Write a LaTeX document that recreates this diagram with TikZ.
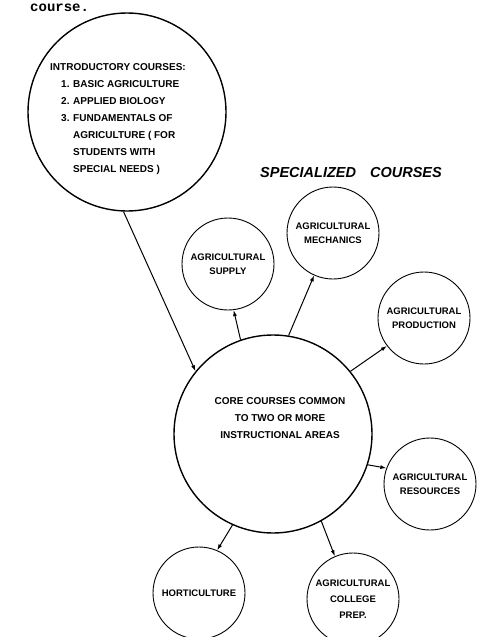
\documentclass[tikz,border=0pt]{standalone}
\usepackage{fontspec}
\setsansfont{Liberation Sans}
\setmonofont{Liberation Mono}
\usetikzlibrary{arrows.meta}

\begin{document}
\begin{tikzpicture}[x=1pt, y=-1pt]
\useasboundingbox (0,0) rectangle (477,637);

\coordinate (P_intro) at (127, 112);
\coordinate (P_core) at (273, 434);
\coordinate (P_supply) at (228, 264);
\coordinate (P_mech) at (333, 233);
\coordinate (P_prod) at (424, 318);
\coordinate (P_res) at (430, 484);
\coordinate (P_hort) at (199, 593);
\coordinate (P_prep) at (353, 599);


\tikzset{BigStyle/.style = {
 shape = circle,
 draw = black,
 line width = 1.4pt,
 inner sep = 0pt,
 minimum size = 198pt} }

\tikzset{AreaStyle/.style = {
 shape = circle,
 draw = black,
 line width = 0.9pt,
 align = center,
 inner sep = 0pt,
 minimum size = 92pt,
 font = \sffamily\bfseries\fontsize{9.5}{14}\selectfont} }

\tikzset{TextStyle/.style = {
 inner sep = 0pt,
 font = \sffamily\bfseries\fontsize{10}{17}\selectfont} }

% end of the page text above the figure
\node[anchor=base west, inner sep=0pt, font=\ttfamily\bfseries\fontsize{14}{14}\selectfont] (Course) at (30, 12) {course.};

\node[BigStyle] (Intro) at (P_intro) {};
\node[BigStyle] (Core) at (P_core) {};

\node[TextStyle, anchor=north west, align=left] (IntroText) at (50, 63.5) {%
INTRODUCTORY COURSES:\\
\hspace*{11pt}1. BASIC AGRICULTURE\\
\hspace*{11pt}2. APPLIED BIOLOGY\\
\hspace*{11pt}3. FUNDAMENTALS OF\\
\hspace*{23pt}AGRICULTURE ( FOR\\
\hspace*{23pt}STUDENTS WITH\\
\hspace*{23pt}SPECIAL NEEDS )};

\node[TextStyle, align=center] (CoreText) at (280, 418) {%
CORE COURSES COMMON\\
TO TWO OR MORE\\
INSTRUCTIONAL AREAS};

\node[font=\sffamily\bfseries\itshape\fontsize{14.5}{15}\selectfont, inner sep=0pt] (Special) at (351, 173) {SPECIALIZED\hspace{14pt}COURSES};

\node[AreaStyle] (Supply) at (P_supply) {AGRICULTURAL\\SUPPLY};
\node[AreaStyle] (Mech) at (P_mech) {AGRICULTURAL\\MECHANICS};
\node[AreaStyle] (Prod) at (P_prod) {AGRICULTURAL\\PRODUCTION};
\node[AreaStyle] (Res) at (P_res) {AGRICULTURAL\\RESOURCES};
\node[AreaStyle] (Hort) at (P_hort) {HORTICULTURE};
\node[AreaStyle, font = \sffamily\bfseries\fontsize{9.5}{16}\selectfont] (Prep) at (P_prep) {AGRICULTURAL\\COLLEGE\\PREP.};


\tikzset{EdgeStyle/.style = {line width = 1pt, -{Latex[length=6pt, width=4pt]}} }

\draw[EdgeStyle] (Intro.268) -- (Core.141);
\draw[EdgeStyle] (Core.109) -- (Supply.277);
\draw[EdgeStyle] (Core.81) -- (Mech.246);
\draw[EdgeStyle] (Core.39) -- (Prod.217);
\draw[EdgeStyle] (Core.-18) -- (Res.160);
\draw[EdgeStyle] (Core.299) -- (Prep.113);
\draw[EdgeStyle] (Core.246) -- (Hort.67);

\end{tikzpicture}
\end{document}
